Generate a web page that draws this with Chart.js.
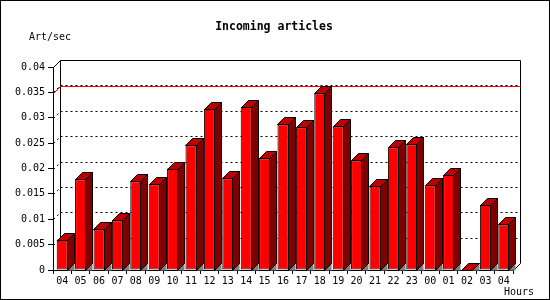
<!DOCTYPE html>
<html>
<head>
<meta charset="utf-8">
<script src="https://cdn.jsdelivr.net/npm/chart.js@4"></script>
<style>
html,body{margin:0;padding:0;background:#fff;}
canvas{display:block;}
</style>
</head>
<body>
<canvas id="c" width="550" height="300"></canvas>
<script>
// ---- data ----
const hours = ['04','05','06','07','08','09','10','11','12','13','14','15','16','17','18','19','20','21','22','23','00','01','02','03','04'];
const artPerSec = [0.0060, 0.0179, 0.0080, 0.0098, 0.0175, 0.0169, 0.0200, 0.0246, 0.0317, 0.0181, 0.0321, 0.0220, 0.0287, 0.0281, 0.0348, 0.0283, 0.0216, 0.0165, 0.0242, 0.0248, 0.0167, 0.0187, 0, 0.0128, 0.0090];
const yTickLabels = ['0','0.005','0.01','0.015','0.02','0.025','0.03','0.035','0.04'];
const titleText = 'Incoming articles';
const yUnitText = 'Art/sec';
const xUnitText = 'Hours';

const FONT = "'DejaVu Sans Mono', 'Liberation Mono', monospace";
const D = 7; // 3D depth in px

function poly(ctx, pts, fill, stroke) {
  ctx.beginPath();
  ctx.moveTo(pts[0][0], pts[0][1]);
  for (let i = 1; i < pts.length; i++) ctx.lineTo(pts[i][0], pts[i][1]);
  ctx.closePath();
  if (fill) { ctx.fillStyle = fill; ctx.fill(); }
  if (stroke) { ctx.strokeStyle = stroke; ctx.lineWidth = 1; ctx.stroke(); }
}

const decor = {
  id: 'decor',
  beforeDraw(chart) {
    const ctx = chart.ctx;
    ctx.save();
    ctx.fillStyle = '#fff';
    ctx.fillRect(0, 0, chart.width, chart.height);
    ctx.strokeStyle = '#000';
    ctx.lineWidth = 1;
    ctx.strokeRect(0.5, 0.5, chart.width - 1, chart.height - 1);
    ctx.fillStyle = '#000';
    ctx.textBaseline = 'middle';
    ctx.font = 'bold 11.5px ' + FONT;
    ctx.textAlign = 'center';
    ctx.fillText(titleText, 274, 27);
    ctx.font = '10px ' + FONT;
    ctx.textAlign = 'left';
    ctx.fillText(yUnitText, 29, 37);
    ctx.fillText(xUnitText, 504, 292);
    ctx.restore();
  },
  beforeDatasetsDraw(chart) {
    const ctx = chart.ctx;
    const a = chart.chartArea;
    const ys = chart.scales.y;
    const L = Math.round(a.left) + 0.5, R = Math.round(a.right) + 0.5;
    const T = Math.round(a.top) + 0.5, B = Math.round(a.bottom) + 0.5;
    ctx.save();
    ctx.lineWidth = 1;
    ctx.strokeStyle = '#000';
    // dotted back-wall grid lines + diagonal ticks
    ctx.setLineDash([2, 3]);
    ys.ticks.forEach(t => {
      if (t.value <= 0 || t.value >= ys.max) return;
      const py = Math.round(ys.getPixelForValue(t.value)) + 0.5;
      ctx.beginPath();
      ctx.moveTo(L + D, py - D);
      ctx.lineTo(R + D, py - D);
      ctx.stroke();
      ctx.beginPath();
      ctx.moveTo(L, py);
      ctx.lineTo(L + D, py - D);
      ctx.stroke();
    });
    ctx.setLineDash([]);
    // back wall frame
    ctx.beginPath();
    ctx.moveTo(L, T);
    ctx.lineTo(L + D, T - D);
    ctx.lineTo(R + D, T - D);
    ctx.lineTo(R + D, B - D);
    ctx.lineTo(R, B);
    ctx.moveTo(L + D, T - D);
    ctx.lineTo(L + D, B - D);
    ctx.stroke();
    // maximum line
    const maxV = Math.max(...artPerSec);
    const my = Math.round(ys.getPixelForValue(maxV)) + 0.5;
    ctx.strokeStyle = '#ff0000';
    ctx.beginPath();
    ctx.moveTo(L, my);
    ctx.lineTo(L + D, my - D);
    ctx.lineTo(R + D, my - D);
    ctx.stroke();
    ctx.restore();
  },
  afterDatasetsDraw(chart) {
    const ctx = chart.ctx;
    const meta = chart.getDatasetMeta(0);
    ctx.save();
    meta.data.forEach(el => {
      const p = el.getProps(['x', 'y', 'base', 'width'], true);
      const l = Math.round(p.x - p.width / 2) + 0.5;
      const r = Math.round(p.x + p.width / 2) - 0.5;
      const t = Math.round(p.y) + 0.5;
      const b = Math.round(p.base) + 0.5;
      // floor shadow under the side
      poly(ctx, [[r, b], [r + D, b - D], [r + D, b]], '#808080', null);
      // side face
      if (b - t > 0) poly(ctx, [[r, t], [r + D, t - D], [r + D, b - D], [r, b]], '#800000', '#000');
      // top face
      poly(ctx, [[l, t], [l + D, t - D], [r + D, t - D], [r, t]], '#c00000', '#000');
    });
    ctx.restore();
  }
};

Chart.defaults.font.family = FONT;
Chart.defaults.font.size = 10;
Chart.defaults.color = '#000';

new Chart(document.getElementById('c'), {
  type: 'bar',
  data: {
    labels: hours,
    datasets: [{
      data: artPerSec,
      backgroundColor: '#ff0000',
      borderColor: '#000',
      borderWidth: 1,
      borderSkipped: false,
      categoryPercentage: 1,
      barPercentage: 0.6
    }]
  },
  options: {
    responsive: false,
    animation: false,
    devicePixelRatio: 1,
    layout: { padding: { left: 0, top: 67, right: 37, bottom: 0 } },
    plugins: { legend: { display: false }, tooltip: { enabled: false }, title: { display: false } },
    scales: {
      x: {
        afterFit(s) { s.height = 30; },
        grid: { drawOnChartArea: false, drawTicks: true, tickLength: 4, color: '#000', offset: true },
        border: { display: true, color: '#000' },
        ticks: { maxRotation: 0, autoSkip: false, padding: 1, font: { size: 10 } }
      },
      y: {
        min: 0,
        max: 0.04,
        afterFit(s) { s.width = 53; },
        grid: { drawOnChartArea: false, drawTicks: true, tickLength: 5, color: '#000' },
        border: { display: true, color: '#000' },
        ticks: {
          stepSize: 0.005,
          padding: 3,
          font: { size: 10 },
          callback: (v, i) => yTickLabels[i]
        }
      }
    }
  },
  plugins: [decor]
});
</script>
</body>
</html>
